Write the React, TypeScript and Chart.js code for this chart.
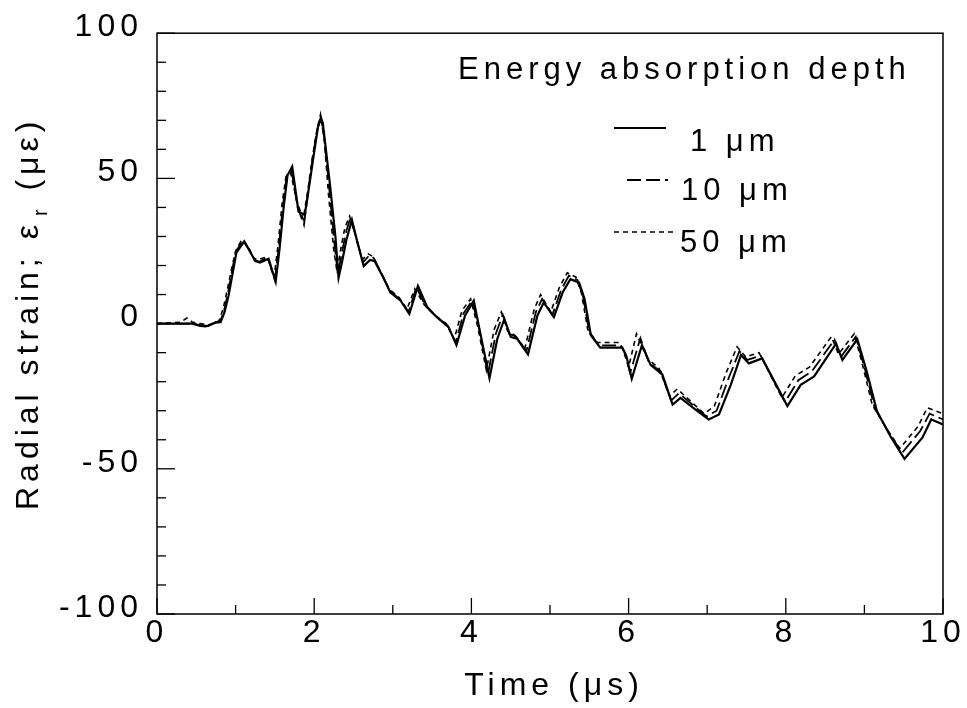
import React, { useEffect, useRef } from "react";
import { Chart, registerables } from "chart.js";

Chart.register(...registerables);

const FONT = "'Liberation Sans', Arial, Helvetica, sans-serif";

const X_LABEL_TICKS = [0, 2, 4, 6, 8, 10];
const X_MINOR_TICKS = [1, 3, 5, 7, 9];
const Y_LABEL_TICKS = [-100, -50, 0, 50, 100];
const Y_MINOR_TICKS = [-90, -80, -70, -60, -40, -30, -20, -10, 10, 20, 30, 40, 60, 70, 80, 90];

const X_TITLE = "Time (\u03bcs)";
const Y_TITLE_MAIN = "Radial strain; \u03b5";
const Y_TITLE_SUB = "r";
const Y_TITLE_END = " (\u03bc\u03b5)";
const LEGEND_TITLE = "Energy absorption depth";
const SERIES_NAMES = ["1 \u03bcm", "10 \u03bcm", "50 \u03bcm"];

// 1 um absorption depth (solid)
const TIME_1 = [0, 0.45, 0.55, 0.62, 0.68, 0.75, 0.81, 0.86, 0.91, 0.96, 1.01, 1.11, 1.18, 1.25, 1.31, 1.42, 1.51, 1.56, 1.61, 1.66, 1.72, 1.8, 1.88, 1.94, 1.99, 2.05, 2.085, 2.11, 2.2, 2.27, 2.31, 2.36, 2.41, 2.48, 2.55, 2.63, 2.71, 2.77, 2.88, 2.97, 3.1, 3.21, 3.32, 3.44, 3.56, 3.71, 3.81, 3.92, 4.03, 4.11, 4.23, 4.33, 4.42, 4.5, 4.58, 4.72, 4.84, 4.92, 5.05, 5.16, 5.26, 5.37, 5.44, 5.52, 5.64, 5.92, 5.97, 6.04, 6.17, 6.28, 6.43, 6.56, 6.66, 6.88, 7.02, 7.15, 7.3, 7.43, 7.53, 7.7, 8.02, 8.19, 8.36, 8.64, 8.72, 8.91, 9.03, 9.16, 9.34, 9.51, 9.74, 9.85, 10];
const STRAIN_1 = [0, 0, -0.8, -1, -0.5, 0.5, 0.5, 4, 9.6, 17, 24.4, 28.3, 25, 21.5, 21, 22.3, 14.4, 26, 39.7, 51, 54.1, 38.6, 37.4, 48, 57.3, 68, 71, 69, 48, 30, 15.8, 22, 28.9, 35.7, 28, 19.8, 21.9, 21.5, 15.8, 10.7, 7.9, 3.3, 13, 5.6, 2.2, -1.2, -7.4, 2.8, 7.9, -2.9, -18.8, -5.2, 1.6, -4.6, -5.2, -10.6, 2.8, 7.3, 2.2, 10.7, 15.3, 14.1, 8.5, -4, -8.3, -8.3, -11, -19, -7.4, -14.2, -17.6, -27.9, -25.6, -30.2, -33, -31.3, -21.1, -10.8, -13.7, -12, -28.4, -21.1, -18.2, -6.9, -12.5, -5.4, -16.5, -30.2, -39.2, -46.6, -39.2, -33, -34.7];

// 10 um absorption depth (long dash)
const TIME_10 = [0, 0.45, 0.55, 0.65, 0.75, 0.8, 0.85, 0.9, 0.95, 1.0, 1.09, 1.17, 1.24, 1.3, 1.41, 1.5, 1.55, 1.6, 1.65, 1.71, 1.79, 1.87, 1.93, 1.98, 2.04, 2.08, 2.12, 2.19, 2.26, 2.3, 2.35, 2.4, 2.46, 2.54, 2.62, 2.7, 2.76, 2.87, 2.96, 3.09, 3.2, 3.3, 3.42, 3.55, 3.7, 3.8, 3.9, 4.01, 4.1, 4.21, 4.31, 4.4, 4.48, 4.57, 4.7, 4.82, 4.9, 5.03, 5.14, 5.24, 5.35, 5.42, 5.5, 5.62, 5.9, 5.95, 6.02, 6.15, 6.26, 6.41, 6.54, 6.64, 6.86, 6.99, 7.12, 7.27, 7.41, 7.51, 7.68, 7.99, 8.16, 8.33, 8.62, 8.7, 8.89, 9.0, 9.13, 9.31, 9.48, 9.71, 9.83, 10];
const STRAIN_10 = [0, 0, -0.5, -0.8, 0.3, 0.5, 4, 10, 17.5, 24.5, 28.8, 25.5, 22, 21.3, 22.8, 15, 26.5, 40, 51, 53, 40, 34, 47, 57, 67, 70, 66, 47, 27, 17, 24, 31, 36.5, 29, 21, 23.5, 22.5, 16.5, 11.5, 8.3, 4, 12.5, 6, 2.5, -0.8, -6.5, 3.5, 8, -2, -17.5, -3.5, 3, -3.5, -4.5, -9.5, 4, 8.5, 3, 11.5, 16.5, 15, 9.5, -3, -7.5, -7.5, -10, -17, -5, -13.5, -16.5, -26.5, -24, -29, -32, -30, -19, -9.5, -12.5, -11, -27, -19.5, -16.5, -5.5, -11.5, -4.5, -15, -29, -37.5, -44.5, -37, -31, -33];

// 50 um absorption depth (short dash)
const TIME_50 = [0, 0.3, 0.38, 0.45, 0.55, 0.65, 0.75, 0.79, 0.84, 0.89, 0.95, 1.0, 1.08, 1.16, 1.23, 1.29, 1.4, 1.49, 1.54, 1.59, 1.64, 1.7, 1.78, 1.86, 1.92, 1.97, 2.03, 2.08, 2.13, 2.18, 2.25, 2.29, 2.34, 2.39, 2.45, 2.53, 2.61, 2.69, 2.75, 2.86, 2.95, 3.08, 3.18, 3.28, 3.4, 3.53, 3.68, 3.78, 3.88, 3.99, 4.08, 4.19, 4.29, 4.38, 4.46, 4.55, 4.68, 4.8, 4.88, 5.01, 5.12, 5.22, 5.33, 5.4, 5.48, 5.6, 5.88, 5.93, 6.0, 6.1, 6.24, 6.39, 6.52, 6.62, 6.84, 6.96, 7.09, 7.24, 7.38, 7.49, 7.66, 7.95, 8.12, 8.3, 8.58, 8.67, 8.87, 8.97, 9.1, 9.28, 9.45, 9.68, 9.8, 10];
const STRAIN_50 = [0, 0.5, 1.9, 0.5, 0, -0.5, 0.5, 1, 5, 11, 19, 25, 29, 26.5, 22.5, 22, 23, 16, 27, 41, 50.5, 52, 42, 36, 46, 56, 66, 72, 63, 45, 25, 18, 26, 33, 37, 30, 22, 24, 23, 17, 12, 9, 5, 12, 6.5, 3, 0, -5.5, 4.5, 8.5, -1, -16, -2, 4, -2.5, -4, -8.5, 5, 10, 4, 12.5, 17.5, 16, 10.5, -2, -6.5, -6.5, -9, -15, -3.5, -12, -15.5, -25, -22.5, -28, -31, -28.5, -17, -8, -11.5, -10, -25.5, -18, -15, -4.5, -10.5, -3.5, -13.5, -28, -36, -43, -35.5, -29, -31];

const toPoints = (xs: number[], ys: number[]) => xs.map((x, i) => ({ x, y: ys[i] }));

const decor = {
  id: "decor",
  beforeDraw(chart: any) {
    const ctx = chart.ctx;
    ctx.save();
    ctx.fillStyle = "#fff";
    ctx.fillRect(0, 0, chart.width, chart.height);
    ctx.restore();
    (ctx as any).letterSpacing = "5px";
  },
  afterDraw(chart: any) {
    const ctx = chart.ctx;
    const a = chart.chartArea;
    const xs = chart.scales.x;
    const ys = chart.scales.y;
    ctx.save();
    ctx.strokeStyle = "#000";
    ctx.lineWidth = 1.5;
    ctx.setLineDash([]);
    ctx.strokeRect(a.left, a.top, a.right - a.left, a.bottom - a.top);
    ctx.lineWidth = 1.3;
    const tick = (x0: number, y0: number, x1: number, y1: number) => {
      ctx.beginPath();
      ctx.moveTo(x0, y0);
      ctx.lineTo(x1, y1);
      ctx.stroke();
    };
    X_LABEL_TICKS.forEach((v) => { const p = xs.getPixelForValue(v); tick(p, a.bottom, p, a.bottom - 16); });
    X_MINOR_TICKS.forEach((v) => { const p = xs.getPixelForValue(v); tick(p, a.bottom, p, a.bottom - 9); });
    Y_LABEL_TICKS.forEach((v) => { const p = ys.getPixelForValue(v); tick(a.left, p, a.left + 18, p); });
    Y_MINOR_TICKS.forEach((v) => { const p = ys.getPixelForValue(v); tick(a.left, p, a.left + 9, p); });

    ctx.fillStyle = "#000";
    (ctx as any).letterSpacing = "5px";
    ctx.textBaseline = "alphabetic";

    // x title
    ctx.font = `32px ${FONT}`;
    ctx.textAlign = "center";
    ctx.fillText(X_TITLE, (a.left + a.right) / 2 + 4, 695);

    // y title (rotated, with subscript)
    ctx.save();
    ctx.translate(38, 510);
    ctx.rotate(-Math.PI / 2);
    ctx.textAlign = "left";
    ctx.font = `32px ${FONT}`;
    ctx.fillText(Y_TITLE_MAIN, 0, 0);
    let off = ctx.measureText(Y_TITLE_MAIN).width;
    ctx.font = `20px ${FONT}`;
    ctx.fillText(Y_TITLE_SUB, off + 4, 9);
    off += ctx.measureText(Y_TITLE_SUB).width + 4;
    ctx.font = `32px ${FONT}`;
    ctx.fillText(Y_TITLE_END, off, 0);
    ctx.restore();

    // legend
    ctx.textAlign = "left";
    ctx.font = `31px ${FONT}`;
    ctx.fillText(LEGEND_TITLE, 458, 79);
    const items = [
      { dash: [], x0: 614, x1: 666, ly: 128, tx: 690, ty: 151, w: 2.2 },
      { dash: [14, 5], x0: 627, x1: 668, ly: 180, tx: 681, ty: 200, w: 1.8 },
      { dash: [5, 4], x0: 614, x1: 673, ly: 232, tx: 680, ty: 252, w: 1.6 },
    ];
    items.forEach((it, i) => {
      ctx.lineWidth = it.w;
      ctx.setLineDash(it.dash);
      ctx.beginPath();
      ctx.moveTo(it.x0, it.ly);
      ctx.lineTo(it.x1, it.ly);
      ctx.stroke();
      ctx.setLineDash([]);
      ctx.fillText(SERIES_NAMES[i], it.tx, it.ty);
    });
    ctx.restore();
  },
};

export default function App() {
  const ref = useRef<HTMLCanvasElement | null>(null);
  useEffect(() => {
    if (!ref.current) return;
    const tickFont = { family: FONT, size: 32 };
    const chart = new Chart(ref.current, {
      type: "line",
      data: {
        datasets: [
          { label: SERIES_NAMES[0], data: toPoints(TIME_1, STRAIN_1), borderColor: "#000", borderWidth: 2.2, pointRadius: 0, tension: 0, fill: false },
          { label: SERIES_NAMES[1], data: toPoints(TIME_10, STRAIN_10), borderColor: "#000", borderWidth: 1.8, borderDash: [14, 5], pointRadius: 0, tension: 0, fill: false },
          { label: SERIES_NAMES[2], data: toPoints(TIME_50, STRAIN_50), borderColor: "#000", borderWidth: 1.6, borderDash: [5, 4], pointRadius: 0, tension: 0, fill: false },
        ],
      },
      options: {
        animation: false,
        responsive: true,
        maintainAspectRatio: false,
        layout: { padding: { top: 29, right: 24, left: 0, bottom: 0 } },
        plugins: { legend: { display: false }, tooltip: { enabled: false }, title: { display: false } },
        scales: {
          x: {
            type: "linear",
            min: 0,
            max: 10,
            afterBuildTicks: (s: any) => { s.ticks = X_LABEL_TICKS.map((v) => ({ value: v })); },
            afterFit: (s: any) => { s.height = 94; },
            grid: { display: false, drawTicks: false },
            border: { display: false },
            ticks: { font: tickFont, color: "#000", padding: 0, maxRotation: 0, autoSkip: false },
          },
          y: {
            type: "linear",
            min: -100,
            max: 100,
            afterBuildTicks: (s: any) => { s.ticks = Y_LABEL_TICKS.map((v) => ({ value: v })); },
            afterFit: (s: any) => { s.width = 157; },
            grid: { display: false, drawTicks: false },
            border: { display: false },
            ticks: { font: tickFont, color: "#000", padding: 14, labelOffset: -6, autoSkip: false },
          },
        },
      },
      plugins: [decor],
    } as any);
    return () => chart.destroy();
  }, []);
  return (
    <div style={{ position: "fixed", left: 0, top: 0, width: 967, height: 708, background: "#fff" }}>
      <canvas ref={ref} />
    </div>
  );
}
